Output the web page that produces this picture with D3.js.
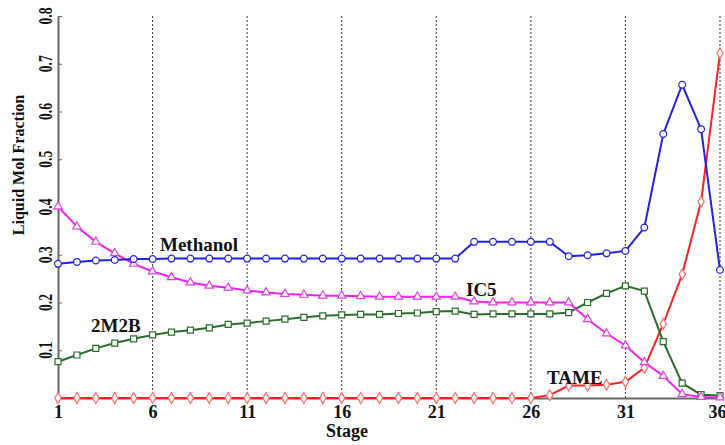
<!DOCTYPE html>
<html>
<head>
<meta charset="utf-8">
<script src="https://cdn.jsdelivr.net/npm/d3@7"></script>
<style>
body { margin: 0; background: #fff; }
text { font-family: "Liberation Serif", "Times New Roman", serif; font-weight: bold; fill: #111; }
</style>
</head>
<body>
<svg width="725" height="445"></svg>
<script>
const svg = d3.select("svg");

// stages 1..36
const stages = d3.range(1, 37);
const xTicks = [1, 6, 11, 16, 21, 26, 31, 36];
const yTicks = [0.1, 0.2, 0.3, 0.4, 0.5, 0.6, 0.7, 0.8];

const methanol = [0.281, 0.285, 0.288, 0.289, 0.291, 0.291, 0.292, 0.292, 0.292, 0.292, 0.292, 0.292,
  0.292, 0.292, 0.292, 0.292, 0.292, 0.292, 0.292, 0.292, 0.292, 0.292, 0.327, 0.327, 0.327, 0.327,
  0.327, 0.297, 0.299, 0.303, 0.308, 0.357, 0.553, 0.656, 0.563, 0.268];
const ic5 = [0.401, 0.359, 0.327, 0.303, 0.281, 0.265, 0.253, 0.242, 0.235, 0.231, 0.225, 0.221,
  0.218, 0.216, 0.214, 0.214, 0.213, 0.212, 0.212, 0.212, 0.212, 0.212, 0.202, 0.200, 0.200, 0.200,
  0.200, 0.200, 0.165, 0.135, 0.110, 0.075, 0.046, 0.008, 0.002, 0.001];
const m2b = [0.076, 0.090, 0.104, 0.115, 0.124, 0.132, 0.138, 0.142, 0.147, 0.154, 0.157, 0.161,
  0.165, 0.169, 0.172, 0.174, 0.175, 0.175, 0.177, 0.178, 0.181, 0.182, 0.175, 0.176, 0.176, 0.176,
  0.176, 0.179, 0.200, 0.219, 0.235, 0.224, 0.118, 0.031, 0.007, 0.005];
const tame = [0, 0, 0, 0, 0, 0, 0, 0, 0, 0, 0, 0, 0, 0, 0, 0, 0, 0, 0, 0, 0, 0, 0, 0, 0, 0,
  0.006, 0.026, 0.026, 0.028, 0.034, 0.063, 0.155, 0.259, 0.411, 0.722];

const x = d3.scaleLinear().domain([1, 36]).range([58, 720]);
const y = d3.scaleLinear().domain([0, 0.8]).range([398, 16]);

// dotted vertical lines
svg.append("g").selectAll("line")
  .data(xTicks.slice(1))
  .enter().append("line")
  .attr("x1", d => x(d)).attr("x2", d => x(d))
  .attr("y1", y(0.8)).attr("y2", y(0))
  .attr("stroke", "#333").attr("stroke-width", 1).attr("stroke-dasharray", "2,2");

// x axis
const xAxis = svg.append("g")
  .attr("transform", `translate(0,${y(0)})`)
  .call(d3.axisBottom(x).tickValues(xTicks).tickSize(0).tickPadding(7));
xAxis.select(".domain").attr("stroke", "#666").attr("stroke-width", 2);
xAxis.selectAll("text").attr("font-size", 18).attr("fill", "#111")
  .attr("font-family", "Liberation Serif").attr("font-weight", "bold")
  .attr("dx", d => d === 36 ? -3 : 0);

// y axis with inward ticks
const yAxis = svg.append("g")
  .attr("transform", `translate(${x(1)},0)`)
  .call(d3.axisLeft(y).tickValues(yTicks).tickSize(-4).tickSizeOuter(0).tickFormat(""));
yAxis.select(".domain").attr("stroke", "#666").attr("stroke-width", 2);
yAxis.selectAll(".tick line").attr("stroke", "#666");

svg.append("g").selectAll("text")
  .data(yTicks)
  .enter().append("text")
  .attr("transform", d => `translate(52,${y(d)}) rotate(-90) scale(0.72,1)`)
  .attr("text-anchor", "middle")
  .attr("font-size", 19)
  .text(d => d.toFixed(1));

svg.append("text")
  .attr("transform", `translate(24,165) rotate(-90)`)
  .attr("text-anchor", "middle")
  .attr("font-size", 16)
  .text("Liquid Mol Fraction");

svg.append("text")
  .attr("x", 347).attr("y", 437)
  .attr("text-anchor", "middle")
  .attr("font-size", 18)
  .text("Stage");

const series = [
  { name: "TAME", values: tame, color: "#ff2020", mark: "#ff6a6a", shape: d3.symbolDiamond, size: 34 },
  { name: "2M2B", values: m2b, color: "#2b6b2b", mark: "#2b6b2b", shape: d3.symbolSquare, size: 36 },
  { name: "IC5", values: ic5, color: "#f020f0", mark: "#e040e0", shape: d3.symbolTriangle, size: 30 },
  { name: "Methanol", values: methanol, color: "#2020e6", mark: "#2020e6", shape: d3.symbolCircle, size: 36 }
];

const line = d3.line().x((d, i) => x(stages[i])).y(d => y(d));

series.forEach(s => {
  const g = svg.append("g");
  g.append("path")
    .attr("d", line(s.values))
    .attr("fill", "none")
    .attr("stroke", s.color)
    .attr("stroke-width", 2);
  g.selectAll("path.pt")
    .data(s.values)
    .enter().append("path")
    .attr("class", "pt")
    .attr("d", d3.symbol().type(s.shape).size(s.size))
    .attr("transform", (d, i) => `translate(${x(stages[i])},${y(d)})`)
    .attr("fill", "#fff")
    .attr("stroke", s.mark)
    .attr("stroke-width", 1.2);
});

// series labels
const labels = [
  { text: "Methanol", x: 160, y: 251 },
  { text: "2M2B", x: 91, y: 332 },
  { text: "IC5", x: 466, y: 296 },
  { text: "TAME", x: 547, y: 384 }
];
svg.append("g").selectAll("text")
  .data(labels)
  .enter().append("text")
  .attr("x", d => d.x).attr("y", d => d.y)
  .attr("font-size", 19)
  .text(d => d.text);
</script>
</body>
</html>
